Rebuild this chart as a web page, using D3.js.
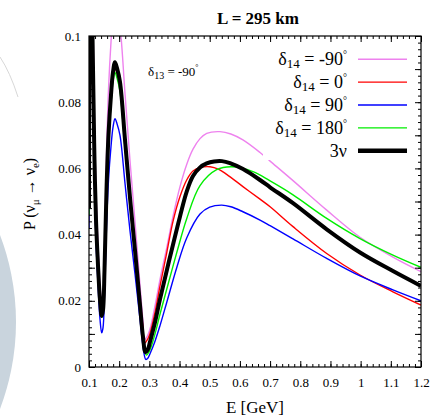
<!DOCTYPE html>
<html><head><meta charset="utf-8">
<script src="https://cdn.jsdelivr.net/npm/d3@7"></script>
<style>body{margin:0;background:#fff;}svg{display:block;} text{font-family:"Liberation Serif","DejaVu Serif",serif;}</style>
</head><body>
<svg id="c" width="434" height="418"></svg>
<script>
// ---- data ----
const xTicks = [0.1,0.2,0.3,0.4,0.5,0.6,0.7,0.8,0.9,1.0,1.1,1.2];
const xTickLabels = ["0.1","0.2","0.3","0.4","0.5","0.6","0.7","0.8","0.9","1","1.1","1.2"];
const yTicks = [0,0.02,0.04,0.06,0.08,0.1];
const yTickLabels = ["0","0.02","0.04","0.06","0.08","0.1"];
const seriesNames = ["δ14 = -90°","δ14 = 0°","δ14 = 90°","δ14 = 180°","3ν"];

const pinkPts = [[0.1,0.044],[0.1012,0.1],[0.104,0.13],[0.108,0.135],[0.1116,0.115],[0.1149,0.094],[0.1182,0.073],[0.1232,0.053],[0.1298,0.037],[0.1364,0.025],[0.1421,0.019],[0.1464,0.0211],[0.1514,0.0355],[0.158,0.0642],[0.1646,0.0839],[0.1729,0.0982],[0.1795,0.1064],[0.1861,0.110],[0.1928,0.1077],[0.2027,0.1029],[0.2193,0.0826],[0.2359,0.0623],[0.2524,0.0439],[0.269,0.0247],[0.2789,0.0135],[0.2830,0.0082],[0.2900,0.0088],[0.3021,0.0115],[0.3187,0.0185],[0.3353,0.0265],[0.3575,0.0360],[0.3783,0.0455],[0.4015,0.0545],[0.4237,0.0612],[0.4446,0.0658],[0.4678,0.0690],[0.49,0.0706],[0.534,0.0711],[0.57,0.0704],[0.61,0.0686],[0.6666,0.0648],[0.70,0.0622],[0.776,0.0563],[0.8876,0.0474],[0.998,0.0392],[1.107,0.0332],[1.2,0.0288]];
const redPts = [[0.1,0.046],[0.1012,0.1],[0.104,0.125],[0.108,0.125],[0.1116,0.100],[0.1149,0.081],[0.1182,0.063],[0.1232,0.045],[0.1298,0.032],[0.1364,0.0215],[0.1421,0.017],[0.1464,0.0187],[0.1514,0.0303],[0.158,0.0535],[0.1646,0.0694],[0.1729,0.0810],[0.1795,0.0876],[0.1861,0.0905],[0.1928,0.0888],[0.2027,0.0848],[0.2193,0.0682],[0.2359,0.0515],[0.2524,0.0365],[0.269,0.0207],[0.2789,0.0116],[0.2840,0.0072],[0.2955,0.0086],[0.3021,0.0102],[0.3187,0.0165],[0.3353,0.0245],[0.3575,0.0345],[0.3783,0.0440],[0.4015,0.0515],[0.4237,0.0565],[0.4446,0.0592],[0.47,0.0603],[0.501,0.0605],[0.53,0.0597],[0.556,0.0582],[0.61,0.0545],[0.6666,0.0507],[0.70,0.0484],[0.776,0.0424],[0.8876,0.0343],[0.998,0.0278],[1.107,0.0227],[1.2,0.0187]];
const bluePts = [[0.1,0.042],[0.1012,0.1],[0.104,0.12],[0.108,0.115],[0.1116,0.090],[0.1149,0.072],[0.1182,0.055],[0.1232,0.038],[0.1298,0.025],[0.1364,0.0145],[0.1421,0.0103],[0.1464,0.0118],[0.1514,0.0220],[0.158,0.0424],[0.1646,0.0564],[0.1729,0.0666],[0.1795,0.0724],[0.1861,0.0750],[0.1928,0.0735],[0.2027,0.0700],[0.2193,0.0555],[0.2359,0.0411],[0.2524,0.0281],[0.269,0.0144],[0.2789,0.0064],[0.2880,0.0023],[0.2955,0.0027],[0.3021,0.0040],[0.3187,0.0078],[0.3353,0.0125],[0.3575,0.0195],[0.3906,0.0300],[0.4237,0.0390],[0.4678,0.0462],[0.50,0.0483],[0.5397,0.0489],[0.57,0.0484],[0.61,0.0469],[0.6666,0.0444],[0.70,0.0427],[0.776,0.0387],[0.8876,0.0328],[0.998,0.0275],[1.107,0.0233],[1.2,0.0200]];
const greenPts = [[0.1,0.046],[0.1012,0.1],[0.104,0.125],[0.108,0.125],[0.1116,0.098],[0.1149,0.079],[0.1182,0.061],[0.1232,0.043],[0.1298,0.029],[0.1364,0.0195],[0.1421,0.015],[0.1464,0.0167],[0.1514,0.0284],[0.158,0.0518],[0.1646,0.0679],[0.1729,0.0795],[0.1795,0.0862],[0.1861,0.0890],[0.1928,0.0873],[0.2027,0.0832],[0.2193,0.0661],[0.2359,0.0491],[0.2524,0.0336],[0.269,0.0174],[0.2789,0.0081],[0.2900,0.0036],[0.3021,0.0052],[0.3187,0.0100],[0.3353,0.0160],[0.3575,0.0235],[0.3906,0.0345],[0.4237,0.0448],[0.4678,0.0548],[0.523,0.0596],[0.5728,0.0605],[0.6434,0.0590],[0.70,0.0562],[0.776,0.0520],[0.8876,0.0449],[0.998,0.0388],[1.107,0.0338],[1.2,0.0301]];
const blackPts = [[0.1,0.048],[0.1012,0.1],[0.104,0.125],[0.108,0.125],[0.1116,0.100],[0.1149,0.0807],[0.1182,0.0625],[0.1232,0.0444],[0.1298,0.0308],[0.1364,0.0202],[0.1421,0.0154],[0.1464,0.0172],[0.1514,0.0293],[0.158,0.0535],[0.1646,0.0701],[0.1729,0.0822],[0.1795,0.0891],[0.1861,0.0921],[0.1928,0.0903],[0.2027,0.0861],[0.2193,0.0686],[0.2359,0.0511],[0.2524,0.0353],[0.269,0.0187],[0.2789,0.0091],[0.2872,0.0045],[0.2955,0.0054],[0.3021,0.0076],[0.3187,0.0135],[0.3353,0.0205],[0.3651,0.0320],[0.4015,0.0455],[0.4237,0.0530],[0.4446,0.0577],[0.4678,0.0603],[0.49,0.0615],[0.5142,0.0621],[0.5407,0.0622],[0.5672,0.0616],[0.6103,0.0598],[0.6666,0.0565],[0.70,0.0543],[0.776,0.0495],[0.8876,0.0416],[0.998,0.0346],[1.107,0.0290],[1.2,0.0245]];

const seriesColors = ["#ee82ee","#ff0000","#0000ff","#00ee00","#000000"];
const seriesData = [pinkPts, redPts, bluePts, greenPts, blackPts];

// ---- layout ----
const svg = d3.select("#c");
const L = 89, R = 421, T = 36, B = 367;
const x = d3.scaleLinear().domain([0.1,1.2]).range([L,R]);
const y = d3.scaleLinear().domain([0,0.1]).range([B,T]);

// watermark
svg.append("circle").attr("cx",-228).attr("cy",322).attr("r",244).attr("fill","#c9d4dd");
svg.append("path").attr("d","M0,57 Q10,72 18,97").attr("fill","none").attr("stroke","#d8d8d8").attr("stroke-width",1);
svg.append("rect").attr("x",L).attr("y",T).attr("width",R-L).attr("height",B-T).attr("fill","#fff");

svg.append("defs").append("clipPath").attr("id","clip").append("rect")
  .attr("x",L).attr("y",T).attr("width",R-L).attr("height",B-T);

const line = d3.line().x(d=>x(d[0])).y(d=>y(d[1])).curve(d3.curveCatmullRom.alpha(0.5));
const g = svg.append("g").attr("clip-path","url(#clip)");
seriesData.forEach((pts,i)=>{
  g.append("path").attr("d",line(pts)).attr("fill","none")
   .attr("stroke",seriesColors[i]).attr("stroke-width", i===4?4:1.4)
   .attr("stroke-linejoin","round");
});

// legend background (opaque key box)
svg.append("rect").attr("x",263).attr("y",46).attr("width",150).attr("height",114).attr("fill","#fff");

// axes
const FS = "Liberation Serif, DejaVu Serif, serif";
const xMinor = d3.range(0.1,1.2001,0.02);
const yMinor = d3.range(0,0.1001,0.002);
const yMid = d3.range(0,0.1001,0.01);
function styleAxis(sel){ sel.attr("font-family",FS); sel.selectAll("path").remove(); sel.selectAll("line").attr("stroke","#000"); }
svg.append("g").attr("transform",`translate(0,${B})`).call(d3.axisBottom(x).tickValues(xMinor).tickSize(-3).tickFormat("")).call(styleAxis);
svg.append("g").attr("transform",`translate(0,${T})`).call(d3.axisTop(x).tickValues(xMinor).tickSize(-3).tickFormat("")).call(styleAxis);
svg.append("g").attr("transform",`translate(0,${B})`).call(d3.axisBottom(x).tickValues(xTicks).tickSize(-6).tickPadding(11).tickFormat((d,i)=>xTickLabels[i])).call(styleAxis)
  .selectAll("text").attr("font-size",13).attr("fill","#000");
svg.append("g").attr("transform",`translate(0,${T})`).call(d3.axisTop(x).tickValues(xTicks).tickSize(-6).tickFormat("")).call(styleAxis);

svg.append("g").attr("transform",`translate(${L},0)`).call(d3.axisLeft(y).tickValues(yMinor).tickSize(-3).tickFormat("")).call(styleAxis);
svg.append("g").attr("transform",`translate(${R},0)`).call(d3.axisRight(y).tickValues(yMinor).tickSize(-3).tickFormat("")).call(styleAxis);
svg.append("g").attr("transform",`translate(${L},0)`).call(d3.axisLeft(y).tickValues(yMid).tickSize(-6).tickFormat("")).call(styleAxis);
svg.append("g").attr("transform",`translate(${R},0)`).call(d3.axisRight(y).tickValues(yMid).tickSize(-6).tickFormat("")).call(styleAxis);
svg.append("g").attr("transform",`translate(${L},0)`).call(d3.axisLeft(y).tickValues(yTicks).tickSize(0).tickPadding(8).tickFormat((d,i)=>yTickLabels[i])).call(styleAxis)
  .selectAll("text").attr("font-size",13).attr("fill","#000");

svg.append("rect").attr("x",L).attr("y",T).attr("width",R-L).attr("height",B-T)
  .attr("fill","none").attr("stroke","#000").attr("stroke-width",1.2);

// title
svg.append("text").attr("x",258).attr("y",24).attr("text-anchor","middle")
  .attr("font-weight","bold").attr("font-size",17).text("L = 295 km");

// x label
svg.append("text").attr("x",255).attr("y",413).attr("text-anchor","middle")
  .attr("font-size",17).text("E [GeV]");

// y label
const yl = svg.append("text").attr("transform","translate(35,194) rotate(-90)").attr("text-anchor","middle")
  .attr("font-size",16);
yl.append("tspan").text("P (ν");
yl.append("tspan").attr("font-size",11).attr("dy",4).text("μ");
yl.append("tspan").attr("dy",-4).text(" → ν");
yl.append("tspan").attr("font-size",11).attr("dy",4).text("e");
yl.append("tspan").attr("dy",-4).text(")");

// delta13 annotation
const ann = svg.append("text").attr("x",148).attr("y",76).attr("font-size",13);
ann.append("tspan").text("δ");
ann.append("tspan").attr("font-size",10).attr("dy",3).text("13");
ann.append("tspan").attr("dy",-3).text(" = -90");
ann.append("tspan").attr("font-size",8).attr("dy",-6).text("°");

// legend
const legY0 = 59.3, legDy = 22.85;
seriesNames.forEach((name,i)=>{
  const yy = legY0 + i*legDy;
  svg.append("line").attr("x1",358).attr("x2",407).attr("y1",yy).attr("y2",yy)
    .attr("stroke",seriesColors[i]).attr("stroke-width", i===4?4.5:1.4);
  const t = svg.append("text").attr("x",347).attr("y",yy+6).attr("text-anchor","end")
    .attr("font-size",18);
  if (i<4){
    const m = name.match(/^δ(\d+) = (.*)°$/);
    t.append("tspan").text("δ");
    t.append("tspan").attr("font-size",13).attr("dy",3).text(m[1]);
    t.append("tspan").attr("dy",-3).text(" = "+m[2]);
    t.append("tspan").attr("font-size",10).attr("dy",-7).text("°");
  } else {
    t.text(name);
  }
});
</script>
</body></html>
